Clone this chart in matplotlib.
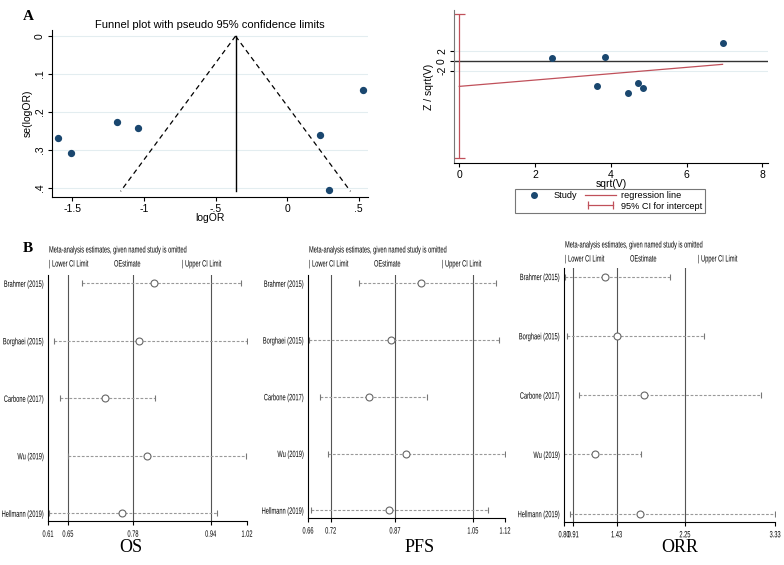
import matplotlib
matplotlib.use("Agg")
from matplotlib import pyplot as plt
from matplotlib.lines import Line2D
from matplotlib.legend_handler import HandlerLine2D
from matplotlib import patheffects
from matplotlib.transforms import Affine2D

# ---- panel A: funnel plot data
funnel_logor = [-1.60, -1.51, -1.19, -1.04, 0.23, 0.29, 0.53]
funnel_se = [0.268, 0.309, 0.227, 0.242, 0.261, 0.406, 0.142]
pooled_logor = -0.36
funnel_se_max = 0.41

# ---- panel A: Egger plot data
egger_x = [2.45, 3.84, 6.95, 3.63, 4.46, 4.73, 4.86]
egger_y = [0.7, 0.9, 3.8, -5.2, -6.6, -4.5, -5.6]
egger_intercept = -5.3
egger_slope = 0.66
egger_ci = [-20.3, 9.7]

# ---- panel B: sensitivity analysis
studies = ["Brahmer (2015)", "Borghaei (2015)", "Carbone (2017)", "Wu (2019)", "Hellmann (2019)"]

os_lower = [0.680, 0.622, 0.635, 0.651, 0.612]
os_est = [0.828, 0.798, 0.727, 0.813, 0.763]
os_upper = [1.007, 1.020, 0.831, 1.017, 0.958]
os_ref = [0.651, 0.785, 0.945]
os_ticks = [0.61, 0.651, 0.785, 0.945, 1.02]
os_ticklabels = ["0.61", "0.65", "0.78", "0.94", "1.02"]

pfs_lower = [0.779, 0.662, 0.688, 0.707, 0.666]
pfs_est = [0.925, 0.853, 0.803, 0.888, 0.848]
pfs_upper = [1.099, 1.107, 0.938, 1.120, 1.080]
pfs_ref = [0.713, 0.863, 1.045]
pfs_ticks = [0.66, 0.713, 0.863, 1.045, 1.12]
pfs_ticklabels = ["0.66", "0.72", "0.87", "1.05", "1.12"]

orr_lower = [0.808, 0.830, 0.976, 0.800, 0.877]
orr_est = [1.29, 1.43, 1.757, 1.17, 1.709]
orr_upper = [2.07, 2.48, 3.16, 1.72, 3.33]
orr_ref = [0.91, 1.43, 2.25]
orr_ticks = [0.80, 0.91, 1.43, 2.25, 3.33]
orr_ticklabels = ["0.80", "0.91", "1.43", "2.25", "3.33"]

W, H = 784, 565
NAVY = "#1a476f"
RED = "#c0505a"
GRID = "#e3edf0"
SANS = ["Liberation Sans", "DejaVu Sans"]
SERIF = ["Liberation Serif", "DejaVu Serif"]
NARROW_SIZE = 6.6
SQUEEZE = 0.62
A_SIZE = 7.5

fig = plt.figure(figsize=(W / 100, H / 100), dpi=100)


class Squeeze(patheffects.AbstractPathEffect):
    """ squeeze a text horizontally around its anchor, to fake a narrow font """

    def __init__(self, text, sx):
        super().__init__()
        self.text = text
        self.sx = sx

    def draw_path(self, renderer, gc, tpath, affine, rgbFace=None):
        x0 = self.text.get_transform().transform(self.text.get_position())[0]
        extra = Affine2D().translate(-x0, 0).scale(self.sx, 1).translate(x0, 0)
        renderer.draw_path(gc, tpath, affine + extra, rgbFace)


def narrow(t):
    t.set_path_effects([Squeeze(t, SQUEEZE)])
    return t


def px_axes(left, top, right, bottom):
    # axes placed by pixel box of the reference
    return fig.add_axes([left / W, 1 - bottom / H, (right - left) / W, (bottom - top) / H])


def stata_spines(ax):
    for s in ["top", "right"]:
        ax.spines[s].set_visible(False)
    for s in ["left", "bottom"]:
        ax.spines[s].set_linewidth(0.8)


# ---------------- funnel plot
ax = px_axes(52, 30, 368, 197)
stata_spines(ax)
for t in [0, 0.1, 0.2, 0.3, 0.4]:
    ax.axhline(t, color=GRID, lw=0.8, zorder=0)
ax.plot([pooled_logor, pooled_logor - 1.96 * funnel_se_max], [0, funnel_se_max], "k--", lw=0.9, dashes=(4, 3))
ax.plot([pooled_logor, pooled_logor + 1.96 * funnel_se_max], [0, funnel_se_max], "k--", lw=0.9, dashes=(4, 3))
ax.plot([pooled_logor, pooled_logor], [0, funnel_se_max], color="black", lw=1.0)
ax.scatter(funnel_logor, funnel_se, s=18, color=NAVY, zorder=3)
ax.set_xlim(-1.643, 0.566)
ax.set_ylim(0.425, -0.016)
ax.set_xticks([-1.5, -1, -0.5, 0, 0.5])
ax.set_xticklabels(["-1.5", "-1", "-.5", "0", ".5"], family=SANS, fontsize=A_SIZE)
ax.set_yticks([0, 0.1, 0.2, 0.3, 0.4])
ax.set_yticklabels(["0", ".1", ".2", ".3", ".4"], family=SANS, fontsize=A_SIZE, rotation=90, va="center")
ax.tick_params(length=3, width=0.8, pad=2)
ax.set_xlabel("logOR", family=SANS, fontsize=A_SIZE, labelpad=-1)
ax.set_ylabel("se(logOR)", family=SANS, fontsize=A_SIZE, labelpad=2)
ax.set_title("Funnel plot with pseudo 95% confidence limits", family=SANS, fontsize=8, pad=1)

# ---------------- Egger plot
ax = px_axes(454, 10, 768, 163)
stata_spines(ax)
ax.spines["left"].set_color("#777777")
for t in [-2, 2]:
    ax.axhline(t, color=GRID, lw=0.8, zorder=0)
ax.axhline(0, color="#333333", lw=1.0)
ax.plot([0, max(egger_x)], [egger_intercept, egger_intercept + egger_slope * max(egger_x)], color=RED, lw=0.9)
ax.errorbar([0], [(egger_ci[0] + egger_ci[1]) / 2], yerr=[[(egger_ci[1] - egger_ci[0]) / 2]],
            color=RED, lw=0.9, capsize=4, capthick=0.9, fmt="none")
ax.scatter(egger_x, egger_y, s=16, color=NAVY, zorder=3)
ax.set_xlim(-0.14, 8.15)
ax.set_ylim(-21.25, 10.6)
ax.set_xticks([0, 2, 4, 6, 8])
ax.set_xticklabels(["0", "2", "4", "6", "8"], family=SANS, fontsize=A_SIZE)
ax.set_yticks([-2, 0, 2])
ax.set_yticklabels(["-2", "0", "2"], family=SANS, fontsize=A_SIZE, rotation=90, va="center")
ax.tick_params(length=3, width=0.8, pad=2)
ax.set_xlabel("sqrt(V)", family=SANS, fontsize=A_SIZE, labelpad=-1)
ax.set_ylabel("Z / sqrt(V)", family=SANS, fontsize=A_SIZE, labelpad=2)

h_study = Line2D([], [], marker="o", ls="none", color=NAVY, markersize=4)
h_blank = Line2D([], [], ls="none")
h_reg = Line2D([], [], color=RED, lw=0.9)
h_ci = Line2D([], [], color=RED, lw=0.9, marker="|", markersize=6, mew=0.9)
leg = fig.legend([h_study, h_blank, h_reg, h_ci], ["Study", "", "regression line", "95% CI for intercept"],
                 loc="center", bbox_to_anchor=(610 / W, 1 - 201 / H), ncol=2,
                 prop={"family": SANS, "size": 6.6}, frameon=True, fancybox=False,
                 edgecolor="#555555", handlelength=3.4, columnspacing=0.8,
                 handletextpad=0.5, borderpad=0.3, labelspacing=0.15,
                 handler_map={h_ci: HandlerLine2D(numpoints=2)})
leg.get_frame().set_linewidth(0.8)


# ---------------- panel B forest plots
def sensitivity(box, lower, est, upper, ref, ticks, ticklabels, name, head_y, name_x):
    left, top, right, bottom = box
    ax = px_axes(left, top, right, bottom)
    stata_spines(ax)
    rows = list(range(1, len(studies) + 1))
    for r in ref:
        ax.axvline(r, color="#555555", lw=0.8, zorder=1)
    ax.hlines(rows, lower, upper, colors="#999999", linestyles=(0, (2.5, 1.5)), lw=0.8, zorder=2)
    ax.plot(lower, rows, ls="none", marker="|", color="#777777", markersize=5, mew=0.8, zorder=2)
    ax.plot(upper, rows, ls="none", marker="|", color="#777777", markersize=5, mew=0.8, zorder=2)
    ax.plot(est, rows, ls="none", marker="o", mfc="white", mec="#666666", markersize=5, mew=0.8, zorder=3)
    ax.set_xlim(ticks[0], ticks[-1])
    ax.set_ylim(5.14, 0.85)
    ax.set_yticks(rows)
    ax.set_yticklabels(studies, family=SANS, fontsize=NARROW_SIZE)
    ax.tick_params(axis="y", length=0, pad=3)
    ax.set_xticks(ticks)
    ax.set_xticklabels(ticklabels, family=SANS, fontsize=NARROW_SIZE)
    ax.tick_params(axis="x", length=3, width=0.8, pad=3)
    for lab in ax.get_xticklabels() + ax.get_yticklabels():
        narrow(lab)
    narrow(fig.text((left + 1) / W, 1 - head_y / H, "Meta-analysis estimates, given named study is omitted",
                    family=SANS, fontsize=NARROW_SIZE, va="center"))
    narrow(fig.text((left + 1) / W, 1 - (head_y + 14) / H, "| Lower CI Limit",
                    family=SANS, fontsize=NARROW_SIZE, va="center"))
    narrow(fig.text((left + 66) / W, 1 - (head_y + 14) / H, "OEstimate",
                    family=SANS, fontsize=NARROW_SIZE, va="center"))
    narrow(fig.text((left + 134) / W, 1 - (head_y + 14) / H, "| Upper CI Limit",
                    family=SANS, fontsize=NARROW_SIZE, va="center"))
    fig.text(name_x / W, 1 - 548 / H, name, family=SERIF, fontsize=13, ha="center", va="center")


sensitivity((48, 274.7, 247, 521.4), os_lower, os_est, os_upper, os_ref, os_ticks, os_ticklabels,
            "OS", 250, 131)
sensitivity((308, 274.8, 505, 518.2), pfs_lower, pfs_est, pfs_upper, pfs_ref, pfs_ticks, pfs_ticklabels,
            "PFS", 250, 420)
sensitivity((564, 267.7, 775, 522), orr_lower, orr_est, orr_upper, orr_ref, orr_ticks, orr_ticklabels,
            "ORR", 245, 680)

# panel letters
fig.text(28 / W, 1 - 16 / H, "A", family=SERIF, fontsize=11, fontweight="bold", ha="center", va="center")
fig.text(28 / W, 1 - 248 / H, "B", family=SERIF, fontsize=11, fontweight="bold", ha="center", va="center")

fig.savefig("out.png", dpi=100)
